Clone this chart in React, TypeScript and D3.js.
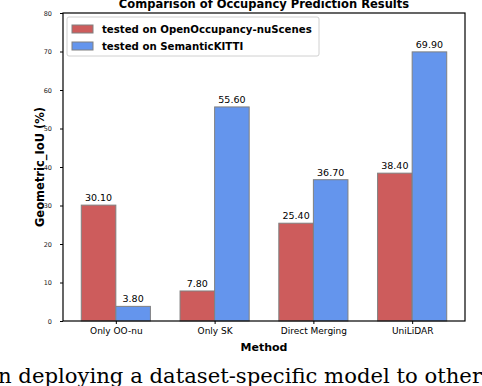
import React, { useEffect, useRef } from "react";
import * as d3 from "d3";

const methods = ["Only OO-nu", "Only SK", "Direct Merging", "UniLiDAR"];
const nuScenes = [30.1, 7.8, 25.4, 38.4];
const semKitti = [3.8, 55.6, 36.7, 69.9];
const yTicks = [0, 10, 20, 30, 40, 50, 60, 70, 80];
const seriesNames = ["tested on OpenOccupancy-nuScenes", "tested on SemanticKITTI"];
const seriesColors = ["#cd5c5c", "#6495ed"];

export default function App() {
  const ref = useRef<SVGSVGElement>(null);

  useEffect(() => {
    const width = 482;
    const height = 386;
    const margin = { top: 13, right: 17, bottom: 65, left: 63 };
    const barW = 0.35;

    const svg = d3.select(ref.current).attr("width", width).attr("height", height);
    svg.selectAll("*").remove();

    const x = d3.scaleLinear().domain([-0.535, 3.535]).range([margin.left, width - margin.right]);
    const y = d3.scaleLinear().domain([0, 80]).range([height - margin.bottom, margin.top]);
    const bw = x(barW) - x(0);

    const series = [nuScenes, semKitti];
    series.forEach((vals, s) => {
      const off = s === 0 ? -barW / 2 : barW / 2;
      const g = svg.append("g");
      g.selectAll("rect")
        .data(vals)
        .enter()
        .append("rect")
        .attr("x", (_, i) => x(i + off) - bw / 2)
        .attr("y", (d) => y(d))
        .attr("width", bw)
        .attr("height", (d) => y(0) - y(d))
        .attr("fill", seriesColors[s])
        .attr("stroke", "#808080")
        .attr("stroke-width", 1);
      g.selectAll("text")
        .data(vals)
        .enter()
        .append("text")
        .attr("x", (_, i) => x(i + off))
        .attr("y", (d) => y(d) - 4)
        .attr("text-anchor", "middle")
        .attr("font-family", "DejaVu Sans")
        .attr("font-size", 9.5)
        .text((d) => d.toFixed(2));
    });

    // axes
    const yAxis = svg.append("g")
      .attr("transform", `translate(${margin.left},0)`)
      .call(d3.axisLeft(y).tickValues(yTicks).tickSize(3).tickPadding(8));
    yAxis.select(".domain").remove();
    yAxis.selectAll("text").attr("font-family", "DejaVu Sans").attr("font-size", 6.5).attr("fill", "#222");

    const xAxis = svg.append("g")
      .attr("transform", `translate(0,${y(0)})`)
      .call(d3.axisBottom(x).tickValues(d3.range(methods.length)).tickFormat((i) => methods[+i]).tickSize(3).tickPadding(4));
    xAxis.select(".domain").remove();
    xAxis.selectAll("text").attr("font-family", "DejaVu Sans").attr("font-size", 9).attr("fill", "#000");

    svg.append("rect")
      .attr("x", margin.left)
      .attr("y", margin.top)
      .attr("width", width - margin.right - margin.left)
      .attr("height", y(0) - margin.top)
      .attr("fill", "none")
      .attr("stroke", "#000")
      .attr("stroke-width", 1.2);

    // labels
    svg.append("text")
      .attr("x", (margin.left + width - margin.right) / 2)
      .attr("y", 8)
      .attr("text-anchor", "middle")
      .attr("font-family", "DejaVu Sans")
      .attr("font-weight", "bold")
      .attr("font-size", 11.5)
      .text("Comparison of Occupancy Prediction Results");

    svg.append("text")
      .attr("x", (margin.left + width - margin.right) / 2)
      .attr("y", 351)
      .attr("text-anchor", "middle")
      .attr("font-family", "DejaVu Sans")
      .attr("font-weight", "bold")
      .attr("font-size", 11)
      .text("Method");

    svg.append("text")
      .attr("transform", `translate(44,${(margin.top + y(0)) / 2}) rotate(-90)`)
      .attr("text-anchor", "middle")
      .attr("font-family", "DejaVu Sans")
      .attr("font-weight", "bold")
      .attr("font-size", 11.5)
      .text("Geometric_IoU (%)");

    // legend
    const leg = svg.append("g");
    leg.append("rect")
      .attr("x", 67).attr("y", 17).attr("width", 252).attr("height", 39).attr("rx", 2)
      .attr("fill", "#fff").attr("fill-opacity", 0.8).attr("stroke", "#d0d0d0");
    seriesNames.forEach((name, s) => {
      const cy = 29 + s * 17;
      leg.append("rect").attr("x", 72).attr("y", cy - 4).attr("width", 21).attr("height", 8)
        .attr("fill", seriesColors[s]).attr("stroke", "#808080");
      leg.append("text").attr("x", 102).attr("y", cy + 3.5)
        .attr("font-family", "DejaVu Sans").attr("font-weight", "bold").attr("font-size", 10.2)
        .text(name);
    });

    // caption fragment below the figure
    svg.append("text")
      .attr("x", -2)
      .attr("y", 383)
      .attr("font-family", "DejaVu Serif")
      .attr("font-size", 21)
      .attr("textLength", 484)
      .attr("lengthAdjust", "spacingAndGlyphs")
      .text("n deploying a dataset-specific model to other");
  }, []);

  return (
    <svg ref={ref} style={{ position: "absolute", left: 0, top: 0, background: "#fff" }}></svg>
  );
}
